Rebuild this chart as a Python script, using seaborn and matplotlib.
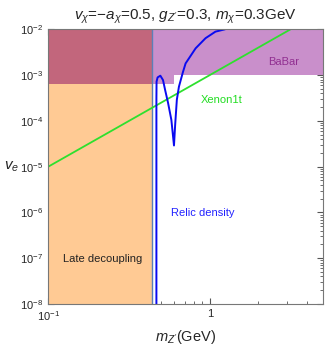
import numpy as np
import pandas as pd
import matplotlib
matplotlib.use('Agg')
import matplotlib.pyplot as plt
import seaborn as sns

# relic density curve (m_Z' in GeV, v_e)
relic_m = [0.467, 0.467, 0.468, 0.475, 0.494, 0.513, 0.529, 0.551, 0.578, 0.600,
           0.610, 0.625, 0.644, 0.681, 0.708, 0.817, 0.941, 1.084, 1.24, 1.30]
relic_ve = [1e-8, 3e-4, 7.2e-4, 8.9e-4, 9.7e-4, 7.8e-4, 4.7e-4, 2.5e-4, 1.05e-4, 2.9e-5,
            8.1e-5, 2.9e-4, 5.6e-4, 1.15e-3, 1.8e-3, 3.85e-3, 6.4e-3, 8.9e-3, 1.0e-2, 1.1e-2]

# Xenon1t line
xenon_m = [0.1, 3.16]
xenon_ve = [1e-5, 1e-2]

# BaBar exclusion (lower edge)
babar_m = [0.1, 0.6, 0.6, 5.0]
babar_ve = [6.3e-4, 6.3e-4, 1e-3, 1e-3]

# late decoupling region edge
late_m_max = 0.437

xmin, xmax = 0.1, 5.0
ymin, ymax = 1e-8, 1e-2

sns.set_style('ticks')
plt.rcParams['font.family'] = ['Liberation Sans', 'DejaVu Sans']
plt.rcParams['mathtext.fontset'] = 'custom'
plt.rcParams['mathtext.it'] = 'Liberation Sans:italic'
plt.rcParams['mathtext.rm'] = 'Liberation Sans'

fig = plt.figure(figsize=(3.32, 3.49), dpi=100)
ax = fig.add_axes([0.1455, 0.129, 0.8265, 0.787])

orange = '#FFCA94'
purple = '#C98FCB'
overlap = '#C2667C'

# late decoupling (below BaBar)
ax.fill_between([xmin, late_m_max], [ymin, ymin], [babar_ve[0], babar_ve[0]],
                color=orange, lw=0, zorder=1)
# overlap of late decoupling and BaBar
ax.fill_between([xmin, late_m_max], [babar_ve[0], babar_ve[0]], [ymax, ymax],
                color=overlap, lw=0, zorder=1)
# BaBar
bm = np.array(babar_m)
bv = np.array(babar_ve)
mask = bm >= late_m_max
bm2 = np.concatenate([[late_m_max], bm[mask]])
bv2 = np.concatenate([[babar_ve[0]], bv[mask]])
ax.fill_between(bm2, bv2, ymax, color=purple, lw=0, zorder=1)
ax.plot([late_m_max, late_m_max], [ymin, ymax], color='#5B80B8', lw=1.0, zorder=2)

df_relic = pd.DataFrame({'m': relic_m, 've': relic_ve})
df_xenon = pd.DataFrame({'m': xenon_m, 've': xenon_ve})
sns.lineplot(data=df_xenon, x='m', y='ve', ax=ax, color='#2EE02E', lw=1.3,
             sort=False, estimator=None, zorder=3)
sns.lineplot(data=df_relic, x='m', y='ve', ax=ax, color='#0A0AF0', lw=1.4,
             sort=False, estimator=None, zorder=3)

ax.set_xscale('log')
ax.set_yscale('log')
ax.set_xlim(xmin, xmax)
ax.set_ylim(ymin, ymax)

ax.set_xticks([0.1, 1])
ax.set_xticklabels(['$10^{-1}$', '1'])
ax.set_yticks([1e-8, 1e-7, 1e-6, 1e-5, 1e-4, 1e-3, 1e-2])
ax.tick_params(which='both', direction='in', top=True, right=True, labelsize=8,
               color='#555555')
ax.tick_params(which='major', length=4)
ax.tick_params(which='minor', length=2)
for s in ax.spines.values():
    s.set_color('#777777')
    s.set_zorder(4)

ax.text(2.86, 1.96e-3, 'BaBar', color='#912F91', fontsize=8, ha='center', va='center', zorder=5)
ax.text(1.19, 2.86e-4, 'Xenon1t', color='#22DD22', fontsize=8, ha='center', va='center', zorder=5)
ax.text(0.90, 9.6e-7, 'Relic density', color='#2222FF', fontsize=8, ha='center', va='center', zorder=5)
ax.text(0.218, 9.5e-8, 'Late decoupling', color='#222222', fontsize=8, ha='center', va='center', zorder=5)

ax.set_xlabel("$m_{Z'}$(GeV)", fontsize=10.5, labelpad=4)
ax.set_ylabel('$v_e$', fontsize=11, rotation=0, ha='center', va='center')
ax.yaxis.set_label_coords(-0.135, 0.5)
ax.set_title("$v_\\chi$=$-a_\\chi$=0.5, $g_{Z'}$=0.3, $m_\\chi$=0.3GeV", fontsize=11, pad=7)

fig.savefig('out.png', dpi=100)
